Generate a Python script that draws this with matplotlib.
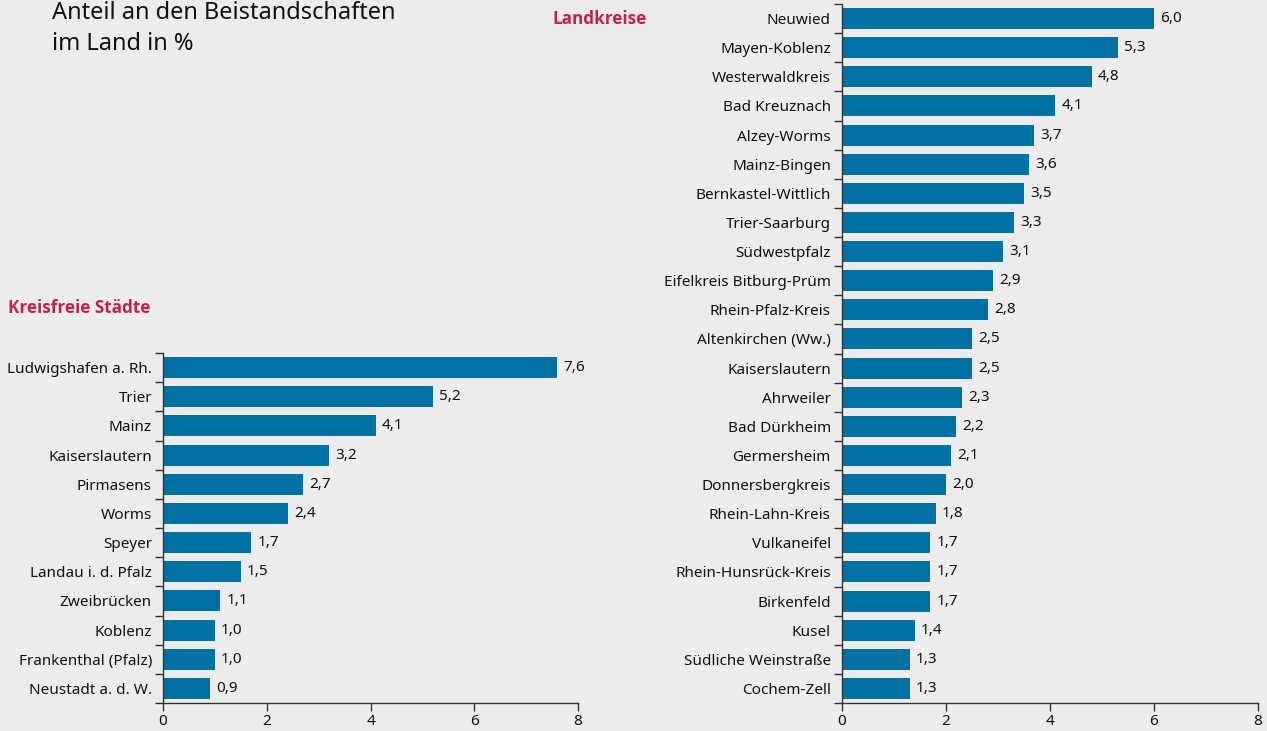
import matplotlib.pyplot as plt
import numpy as np

plt.rcParams['font.family'] = ['Noto Sans', 'DejaVu Sans']

BG = '#ececec'
BAR = '#0071a2'
HEAD = '#c0234a'
AXC = '#333333'

staedte = ["Ludwigshafen a. Rh.", "Trier", "Mainz", "Kaiserslautern", "Pirmasens",
           "Worms", "Speyer", "Landau i. d. Pfalz", "Zweibrücken", "Koblenz",
           "Frankenthal (Pfalz)", "Neustadt a. d. W."]
staedte_anteil = [7.6, 5.2, 4.1, 3.2, 2.7, 2.4, 1.7, 1.5, 1.1, 1.0, 1.0, 0.9]

kreise = ["Neuwied", "Mayen-Koblenz", "Westerwaldkreis", "Bad Kreuznach", "Alzey-Worms",
          "Mainz-Bingen", "Bernkastel-Wittlich", "Trier-Saarburg", "Südwestpfalz",
          "Eifelkreis Bitburg-Prüm", "Rhein-Pfalz-Kreis", "Altenkirchen (Ww.)",
          "Kaiserslautern", "Ahrweiler", "Bad Dürkheim", "Germersheim", "Donnersbergkreis",
          "Rhein-Lahn-Kreis", "Vulkaneifel", "Rhein-Hunsrück-Kreis", "Birkenfeld", "Kusel",
          "Südliche Weinstraße", "Cochem-Zell"]
kreise_anteil = [6.0, 5.3, 4.8, 4.1, 3.7, 3.6, 3.5, 3.3, 3.1, 2.9, 2.8, 2.5,
                 2.5, 2.3, 2.2, 2.1, 2.0, 1.8, 1.7, 1.7, 1.7, 1.4, 1.3, 1.3]

xticks = [0, 2, 4, 6, 8]


def draw_bars(ax, names, vals):
    n = len(names)
    pos = np.arange(n)
    ax.barh(pos, vals, height=0.72, color=BAR, zorder=2)
    for p, v in zip(pos, vals):
        ax.text(v + 0.12, p, f"{v:.1f}".replace('.', ','), va='center', ha='left',
                fontsize=11, color='#111111')
    ax.set_ylim(n - 0.5, -0.5)
    ax.set_xlim(0, 8)
    ax.set_yticks(pos)
    ax.set_yticklabels(names, fontsize=11, color='#111111')
    ax.set_yticks(np.arange(n + 1) - 0.5, minor=True)
    ax.tick_params(axis='y', which='major', length=0, pad=8)
    ax.tick_params(axis='y', which='minor', length=6, color=AXC, width=1)
    ax.set_xticks(xticks)
    ax.tick_params(axis='x', length=6, color=AXC, width=1, labelsize=11,
                   labelcolor='#111111', pad=2)
    for s in ['top', 'right']:
        ax.spines[s].set_visible(False)
    for s in ['left', 'bottom']:
        ax.spines[s].set_color(AXC)
        ax.spines[s].set_linewidth(1)
    ax.set_facecolor(BG)


fig = plt.figure(figsize=(12.67, 7.31), dpi=100, facecolor=BG)

ax1 = fig.add_axes([0.1287, 0.0383, 0.3275, 0.4788])
draw_bars(ax1, staedte, staedte_anteil)

ax2 = fig.add_axes([0.6646, 0.0383, 0.3283, 0.9562])
draw_bars(ax2, kreise, kreise_anteil)

# Titel oben links, erste Zeile läuft über den oberen Rand
fig.text(0.041, 1 - 50 / 731, "Anteil an den Beistandschaften\nim Land in %", fontsize=17,
         va='baseline', ha='left', linespacing=1.38, color='#111111')
fig.text(0.006, 1 - 308 / 731, "Kreisfreie Städte", fontsize=12.3, fontweight='bold',
         family=['Open Sans', 'DejaVu Sans'], color=HEAD, va='center', ha='left')
fig.text(553 / 1267, 1 - 19 / 731, "Landkreise", fontsize=12.3, fontweight='bold',
         family=['Open Sans', 'DejaVu Sans'], color=HEAD, va='center', ha='left')

fig.savefig('out.png', dpi=100, facecolor=BG)
